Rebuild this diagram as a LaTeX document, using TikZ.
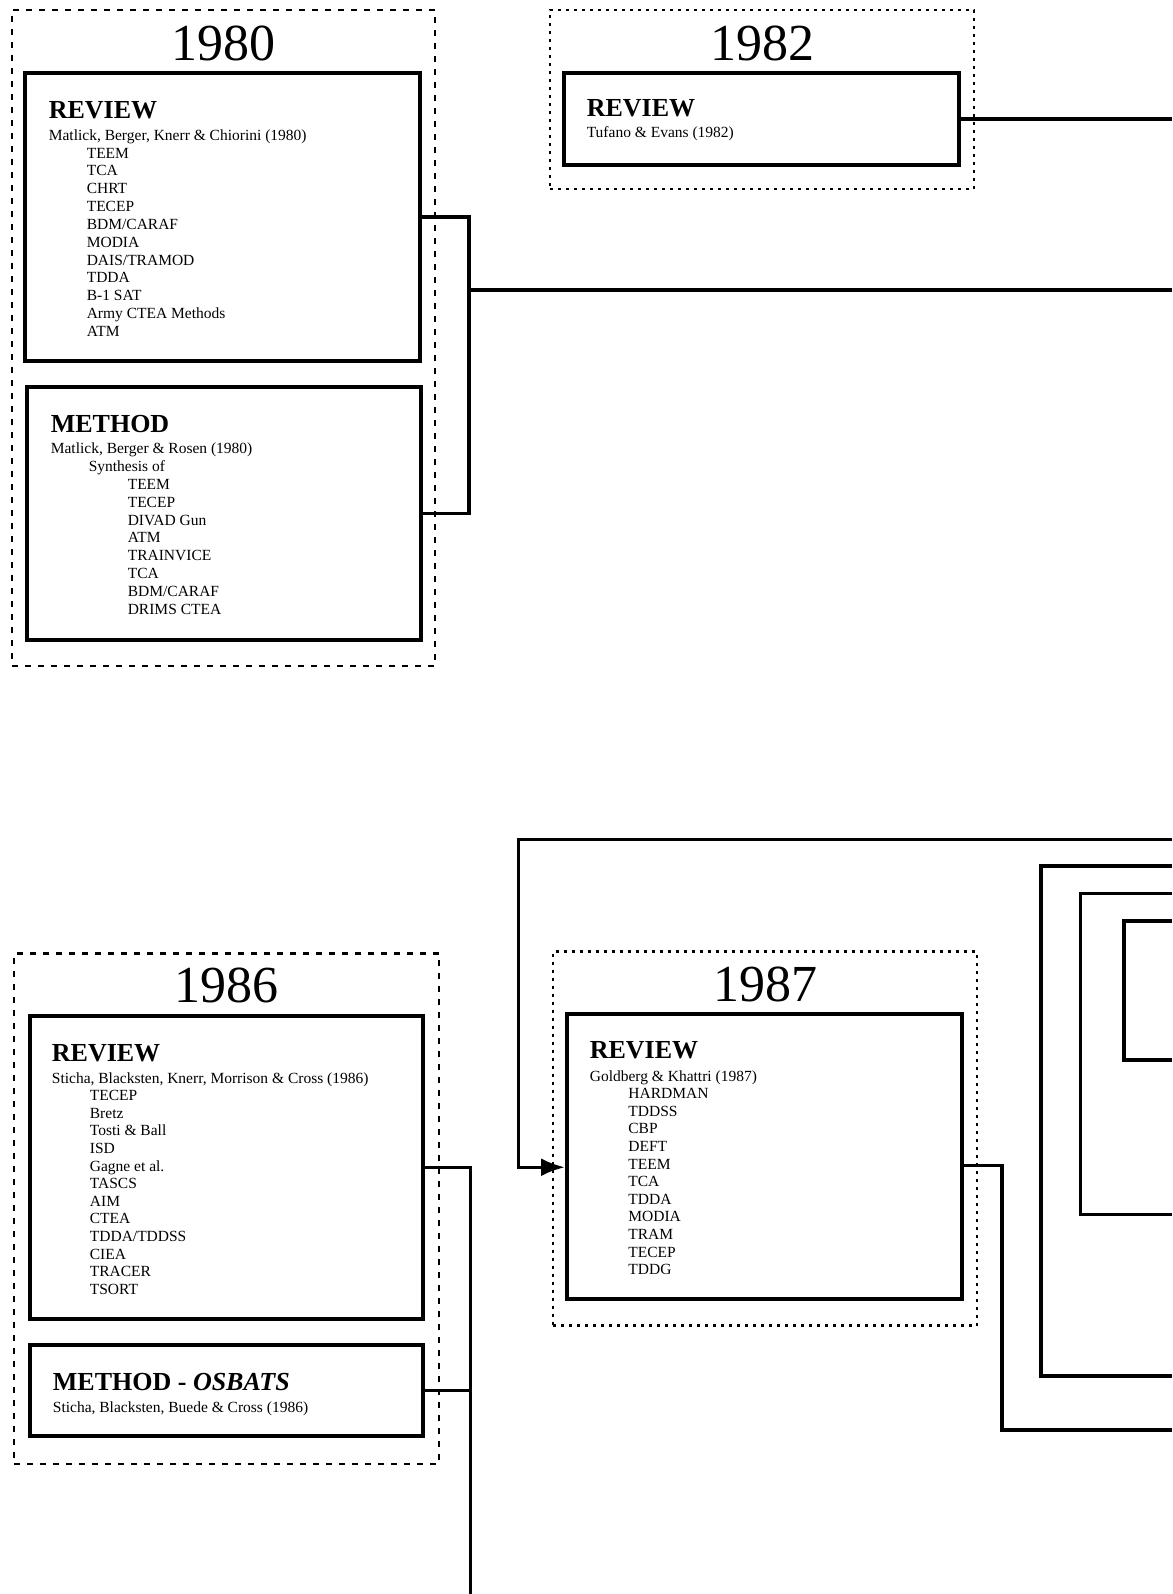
\documentclass[tikz,border=0pt]{standalone}
\usepackage{fontspec}
\setmainfont{Liberation Serif}
\usetikzlibrary{arrows.meta}
\tikzset{
  box/.style={draw,line width=2pt,inner sep=0pt},
  yrgroup/.style={draw,line width=1.3pt,dash pattern=on 3pt off 3.5pt,inner sep=0pt},
  yrgroupdot/.style={draw,line width=1.3pt,dash pattern=on 1.5pt off 2.5pt,inner sep=0pt},
  year/.style={font=\fontsize{26}{26}\selectfont,inner sep=0pt,anchor=base},
  kind/.style={font=\fontsize{13}{13}\selectfont\bfseries,inner sep=0pt,anchor=base west},
  cite/.style={font=\fontsize{7.75}{8.9}\selectfont,inner sep=0pt,anchor=base west},
  link/.style={line width=1.7pt},
}
\begin{document}
\begin{tikzpicture}[x=0.5pt,y=-0.5pt]
\useasboundingbox (0,0) rectangle (1172,1594);
% year groups
\node[yrgroup,minimum width=211.5pt,minimum height=328pt] (g80) at (223.5,338) {};
\node[yrgroupdot,minimum width=212pt,minimum height=89.5pt] (g82) at (762,99.5) {};
\node[yrgroup,minimum width=212.5pt,minimum height=255.25pt] (g86) at (226.5,1208.75) {};
\node[yrgroupdot,minimum width=212pt,minimum height=187pt] (g87) at (765,1138.5) {};
\node[year] (y80) at ([yshift=-26pt]g80.north) {1980};
\node[year] (y82) at ([yshift=-26pt]g82.north) {1982};
\node[year] (y86) at ([yshift=-25pt]g86.north) {1986};
\node[year] (y87) at ([yshift=-25.5pt]g87.north) {1987};
% boxes
\node[box,minimum width=197.3pt,minimum height=144pt] (r80) at (222.7,217) {};
\node[box,minimum width=196.8pt,minimum height=126.5pt] (m80) at (224.2,513.5) {};
\node[box,minimum width=197.5pt,minimum height=46pt] (r82) at (761.5,119) {};
\node[box,minimum width=196.75pt,minimum height=151.75pt] (r86) at (226.25,1167.25) {};
\node[box,minimum width=196.75pt,minimum height=45.5pt] (m86) at (226.25,1390.5) {};
\node[box,minimum width=197.3pt,minimum height=142.75pt] (r87) at (764.3,1156.25) {};
% 1980
\node[kind] (r80k) at ([shift={(12.5pt,-23.8pt)}]r80.north west) {REVIEW};
\node[cite] (r80c) at ([shift={(12.5pt,-34.7pt)}]r80.north west) {Matlick, Berger, Knerr \& Chiorini (1980)};
\foreach \t [count=\i] in {TEEM,TCA,CHRT,TECEP,BDM/CARAF,MODIA,DAIS/TRAMOD,TDDA,B-1 SAT,Army CTEA Methods,ATM}
  \node[cite] (r80i\i) at ([shift={(19pt,-\i*8.9pt)}]r80c.base west) {\t};
\node[kind] (m80k) at ([shift={(12.5pt,-23.5pt)}]m80.north west) {METHOD};
\node[cite] (m80c) at ([shift={(12.5pt,-34.4pt)}]m80.north west) {Matlick, Berger \& Rosen (1980)};
\node[cite] (m80s) at ([shift={(19pt,-8.9pt)}]m80c.base west) {Synthesis of};
\foreach \t [count=\i] in {TEEM,TECEP,DIVAD Gun,ATM,TRAINVICE,TCA,BDM/CARAF,DRIMS CTEA}
  \node[cite] (m80i\i) at ([shift={(19.5pt,-\i*8.9pt)}]m80s.base west) {\t};
% 1982
\node[kind] (r82k) at ([shift={(12.2pt,-22.8pt)}]r82.north west) {REVIEW};
\node[cite] (r82c) at ([shift={(12.2pt,-33.3pt)}]r82.north west) {Tufano \& Evans (1982)};
% 1986
\node[kind] (r86k) at ([shift={(12pt,-23.9pt)}]r86.north west) {REVIEW};
\node[cite] (r86c) at ([shift={(12pt,-34.8pt)}]r86.north west) {Sticha, Blacksten, Knerr, Morrison \& Cross (1986)};
\foreach \t [count=\i] in {TECEP,Bretz,Tosti \& Ball,ISD,Gagne et al.,TASCS,AIM,CTEA,TDDA/TDDSS,CIEA,TRACER,TSORT}
  \node[cite] (r86i\i) at ([shift={(19pt,-\i*8.8pt)}]r86c.base west) {\t};
\node[kind] (m86k) at ([shift={(12.5pt,-23.9pt)}]m86.north west) {METHOD - \textit{OSBATS}};
\node[cite] (m86c) at ([shift={(12.5pt,-34.8pt)}]m86.north west) {Sticha, Blacksten, Buede \& Cross (1986)};
% 1987
\node[kind] (r87k) at ([shift={(12.2pt,-23.4pt)}]r87.north west) {REVIEW};
\node[cite] (r87c) at ([shift={(12.2pt,-34.8pt)}]r87.north west) {Goldberg \& Khattri (1987)};
\foreach \t [count=\i] in {HARDMAN,TDDSS,CBP,DEFT,TEEM,TCA,TDDA,MODIA,TRAM,TECEP,TDDG}
  \node[cite] (r87i\i) at ([shift={(19.3pt,-\i*8.8pt)}]r87c.base west) {\t};
% connectors
\coordinate (j80) at (469,290);
\coordinate (e80) at (1172,290);
\draw[link] (r80.east) -| (j80) |- (m80.east);
\draw[link] (j80) -- (e80);
\draw[link] (r82.east) -- (r82.east -| e80);
\coordinate (j86) at (470.6,1594);
\draw[link] (r86.east) -| (j86);
\draw[link] (m86.east) -- (m86.east -| j86);
\coordinate (t87) at (1172,839.6);
\coordinate (k87) at (518.4,839.6);
\draw[link,-{Latex[length=12pt,width=9pt]}] (t87) -- (k87) |- (r87.west |- r86.east);
\coordinate (j87) at (1002,1430);
\draw[link] ([yshift=-4.5pt]r87.east) -| (j87) -- (j87 -| e80);
\foreach \a/\l/\b in {866/1041/1376,893.5/1080.6/1214.7,921/1124/1060}
  \draw[link] (1172,\a) -| (\l,\b) -- (1172,\b);
\end{tikzpicture}
\end{document}
